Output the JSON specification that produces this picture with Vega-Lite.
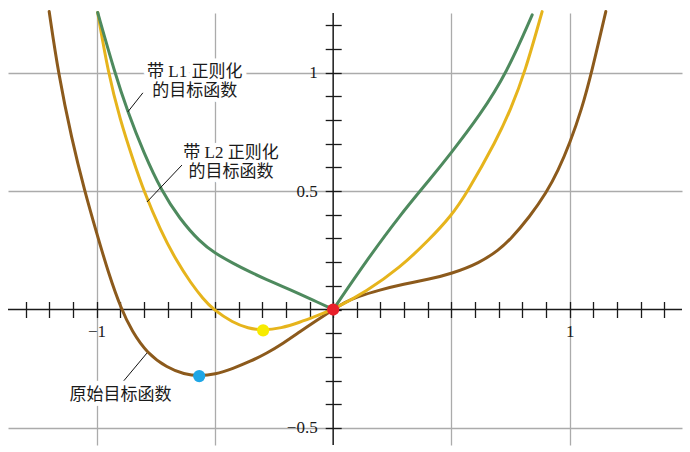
{
  "$schema": "https://vega.github.io/schema/vega-lite/v6.json",
  "width": 674,
  "height": 432,
  "autosize": {"type": "none"},
  "padding": {"left": 8, "top": 13, "right": 8, "bottom": 7},
  "background": "white",
  "config": {"view": {"stroke": null}, "axis": {"labelFont": "Liberation Serif", "labelFontSize": 17, "labelColor": "#1a1a1a"}},
  "datasets": {
    "curves": [
      {"s": "f", "seg": "f", "x": -1.2, "y": 1.258},
      {"s": "f", "seg": "f", "x": -1.162, "y": 1.0},
      {"s": "f", "seg": "f", "x": -1.105, "y": 0.72},
      {"s": "f", "seg": "f", "x": -1.05, "y": 0.5},
      {"s": "f", "seg": "f", "x": -1.0, "y": 0.325},
      {"s": "f", "seg": "f", "x": -0.95, "y": 0.155},
      {"s": "f", "seg": "f", "x": -0.895, "y": 0.0},
      {"s": "f", "seg": "f", "x": -0.85, "y": -0.092},
      {"s": "f", "seg": "f", "x": -0.787, "y": -0.184},
      {"s": "f", "seg": "f", "x": -0.7, "y": -0.247},
      {"s": "f", "seg": "f", "x": -0.63, "y": -0.273},
      {"s": "f", "seg": "f", "x": -0.566, "y": -0.281},
      {"s": "f", "seg": "f", "x": -0.5, "y": -0.274},
      {"s": "f", "seg": "f", "x": -0.423, "y": -0.249},
      {"s": "f", "seg": "f", "x": -0.35, "y": -0.219},
      {"s": "f", "seg": "f", "x": -0.281, "y": -0.185},
      {"s": "f", "seg": "f", "x": -0.21, "y": -0.142},
      {"s": "f", "seg": "f", "x": -0.141, "y": -0.094},
      {"s": "f", "seg": "f", "x": -0.07, "y": -0.046},
      {"s": "f", "seg": "f", "x": 0.0, "y": 0.0},
      {"s": "f", "seg": "f", "x": 0.05, "y": 0.03},
      {"s": "f", "seg": "f", "x": 0.099, "y": 0.053},
      {"s": "f", "seg": "f", "x": 0.197, "y": 0.083},
      {"s": "f", "seg": "f", "x": 0.296, "y": 0.107},
      {"s": "f", "seg": "f", "x": 0.409, "y": 0.129},
      {"s": "f", "seg": "f", "x": 0.496, "y": 0.15},
      {"s": "f", "seg": "f", "x": 0.62, "y": 0.197},
      {"s": "f", "seg": "f", "x": 0.7, "y": 0.252},
      {"s": "f", "seg": "f", "x": 0.747, "y": 0.294},
      {"s": "f", "seg": "f", "x": 0.831, "y": 0.392},
      {"s": "f", "seg": "f", "x": 0.902, "y": 0.495},
      {"s": "f", "seg": "f", "x": 0.95, "y": 0.585},
      {"s": "f", "seg": "f", "x": 1.0, "y": 0.702},
      {"s": "f", "seg": "f", "x": 1.05, "y": 0.845},
      {"s": "f", "seg": "f", "x": 1.092, "y": 1.0},
      {"s": "f", "seg": "f", "x": 1.152, "y": 1.258},

      {"s": "l2", "seg": "l2", "x": -0.995, "y": 1.254},
      {"s": "l2", "seg": "l2", "x": -0.951, "y": 1.0},
      {"s": "l2", "seg": "l2", "x": -0.9, "y": 0.8},
      {"s": "l2", "seg": "l2", "x": -0.845, "y": 0.63},
      {"s": "l2", "seg": "l2", "x": -0.8, "y": 0.5},
      {"s": "l2", "seg": "l2", "x": -0.73, "y": 0.335},
      {"s": "l2", "seg": "l2", "x": -0.662, "y": 0.205},
      {"s": "l2", "seg": "l2", "x": -0.6, "y": 0.11},
      {"s": "l2", "seg": "l2", "x": -0.55, "y": 0.046},
      {"s": "l2", "seg": "l2", "x": -0.507, "y": 0.0},
      {"s": "l2", "seg": "l2", "x": -0.423, "y": -0.056},
      {"s": "l2", "seg": "l2", "x": -0.36, "y": -0.079},
      {"s": "l2", "seg": "l2", "x": -0.296, "y": -0.088},
      {"s": "l2", "seg": "l2", "x": -0.22, "y": -0.079},
      {"s": "l2", "seg": "l2", "x": -0.141, "y": -0.054},
      {"s": "l2", "seg": "l2", "x": -0.07, "y": -0.027},
      {"s": "l2", "seg": "l2", "x": 0.0, "y": 0.0},
      {"s": "l2", "seg": "l2", "x": 0.141, "y": 0.077},
      {"s": "l2", "seg": "l2", "x": 0.282, "y": 0.176},
      {"s": "l2", "seg": "l2", "x": 0.409, "y": 0.298},
      {"s": "l2", "seg": "l2", "x": 0.496, "y": 0.392},
      {"s": "l2", "seg": "l2", "x": 0.564, "y": 0.49},
      {"s": "l2", "seg": "l2", "x": 0.691, "y": 0.716},
      {"s": "l2", "seg": "l2", "x": 0.75, "y": 0.845},
      {"s": "l2", "seg": "l2", "x": 0.81, "y": 1.0},
      {"s": "l2", "seg": "l2", "x": 0.883, "y": 1.258},

      {"s": "l1", "seg": "l1a", "x": -0.995, "y": 1.254},
      {"s": "l1", "seg": "l1a", "x": -0.923, "y": 1.0},
      {"s": "l1", "seg": "l1a", "x": -0.868, "y": 0.834},
      {"s": "l1", "seg": "l1a", "x": -0.8, "y": 0.66},
      {"s": "l1", "seg": "l1a", "x": -0.725, "y": 0.5},
      {"s": "l1", "seg": "l1a", "x": -0.65, "y": 0.385},
      {"s": "l1", "seg": "l1a", "x": -0.563, "y": 0.285},
      {"s": "l1", "seg": "l1a", "x": -0.5, "y": 0.238},
      {"s": "l1", "seg": "l1a", "x": -0.423, "y": 0.195},
      {"s": "l1", "seg": "l1a", "x": -0.35, "y": 0.158},
      {"s": "l1", "seg": "l1a", "x": -0.281, "y": 0.126},
      {"s": "l1", "seg": "l1a", "x": -0.21, "y": 0.096},
      {"s": "l1", "seg": "l1a", "x": -0.141, "y": 0.065},
      {"s": "l1", "seg": "l1a", "x": -0.07, "y": 0.033},
      {"s": "l1", "seg": "l1a", "x": 0.0, "y": 0.0},
      {"s": "l1", "seg": "l1b", "x": 0.0, "y": 0.0},
      {"s": "l1", "seg": "l1b", "x": 0.141, "y": 0.207},
      {"s": "l1", "seg": "l1b", "x": 0.282, "y": 0.398},
      {"s": "l1", "seg": "l1b", "x": 0.409, "y": 0.55},
      {"s": "l1", "seg": "l1b", "x": 0.496, "y": 0.658},
      {"s": "l1", "seg": "l1b", "x": 0.62, "y": 0.82},
      {"s": "l1", "seg": "l1b", "x": 0.733, "y": 0.998},
      {"s": "l1", "seg": "l1b", "x": 0.841, "y": 1.244}
    ],
    "minima": [
      {"name": "原始目标函数最小值", "x": -0.566, "y": -0.281},
      {"name": "L2 最小值", "x": -0.296, "y": -0.088},
      {"name": "L1 最小值", "x": 0.0, "y": 0.0}
    ],
    "labels": [
      {"t": "带 L1 正则化", "x": -0.585, "y": 1.005},
      {"t": "的目标函数", "x": -0.585, "y": 0.923},
      {"t": "带 L2 正则化", "x": -0.432, "y": 0.661},
      {"t": "的目标函数", "x": -0.432, "y": 0.581},
      {"t": "原始目标函数", "x": -0.899, "y": -0.361}
    ],
    "leaders": [
      {"x": -0.804, "y": 0.915, "x2": -0.868, "y2": 0.834},
      {"x": -0.639, "y": 0.61, "x2": -0.787, "y2": 0.454},
      {"x": -0.889, "y": -0.306, "x2": -0.787, "y2": -0.184}
    ]
  },
  "encoding": {
    "x": {"type": "quantitative", "scale": {"domain": [-1.374, 1.474], "nice": false, "zero": false}},
    "y": {"type": "quantitative", "scale": {"domain": [-0.572, 1.252], "nice": false, "zero": false}}
  },
  "layer": [
    {
      "data": {"name": "curves"},
      "transform": [{"filter": "datum.s == 'f'"}],
      "mark": {"type": "point", "opacity": 0},
      "encoding": {
        "x": {"field": "x", "type": "quantitative",
          "axis": {"grid": true, "values": [-1, -0.5, 0.5, 1], "ticks": false, "labels": false, "domain": false, "title": null, "gridColor": "#ababab", "gridWidth": 1.3, "orient": "bottom"}},
        "y": {"field": "y", "type": "quantitative",
          "axis": {"grid": true, "values": [-0.5, 0.5, 1], "ticks": false, "labels": false, "domain": false, "title": null, "gridColor": "#ababab", "gridWidth": 1.3, "orient": "left"}}
      }
    },
    {
      "data": {"values": [{"v": 0}]},
      "mark": {"type": "rule", "color": "#1a1a1a", "strokeWidth": 1.5},
      "encoding": {"y": {"field": "v", "type": "quantitative", "axis": null}}
    },
    {
      "data": {"values": [{"v": 0}]},
      "mark": {"type": "rule", "color": "#1a1a1a", "strokeWidth": 1.5},
      "encoding": {"x": {"field": "v", "type": "quantitative", "axis": null}}
    },
    {
      "data": {"name": "curves"},
      "mark": {"type": "line", "interpolate": "basis", "strokeWidth": 3, "strokeCap": "round"},
      "encoding": {
        "x": {"field": "x", "type": "quantitative", "axis": null},
        "y": {"field": "y", "type": "quantitative", "axis": null},
        "color": {"field": "s", "type": "nominal", "legend": null,
          "scale": {"domain": ["f", "l1", "l2"], "range": ["#8c5a1c", "#4e8a5e", "#e6b41c"]}},
        "detail": {"field": "seg"},
        "order": {"field": "x", "type": "quantitative"}
      }
    },
    {
      "data": {"name": "leaders"},
      "mark": {"type": "rule", "color": "#111111", "strokeWidth": 1},
      "encoding": {
        "x": {"field": "x", "type": "quantitative", "axis": null},
        "y": {"field": "y", "type": "quantitative", "axis": null},
        "x2": {"field": "x2"},
        "y2": {"field": "y2"}
      }
    },
    {
      "data": {"name": "labels"},
      "mark": {"type": "text", "font": "Liberation Serif, Noto Sans CJK SC", "fontSize": 17, "baseline": "middle", "align": "center", "stroke": "white", "strokeWidth": 9, "strokeJoin": "round", "fill": "white"},
      "encoding": {
        "x": {"field": "x", "type": "quantitative", "axis": null},
        "y": {"field": "y", "type": "quantitative", "axis": null},
        "text": {"field": "t"}
      }
    },
    {
      "data": {"name": "labels"},
      "mark": {"type": "text", "font": "Liberation Serif, Noto Sans CJK SC", "fontSize": 17, "baseline": "middle", "align": "center", "color": "#1a1a1a"},
      "encoding": {
        "x": {"field": "x", "type": "quantitative", "axis": null},
        "y": {"field": "y", "type": "quantitative", "axis": null},
        "text": {"field": "t"}
      }
    },
    {
      "data": {"name": "minima"},
      "mark": {"type": "circle", "size": 150, "opacity": 1},
      "encoding": {
        "x": {"field": "x", "type": "quantitative",
          "axis": {"orient": "bottom", "offset": -143.5, "domain": false, "grid": false, "title": null,
            "values": [-1.3, -1.2, -1.1, -1, -0.9, -0.8, -0.7, -0.6, -0.5, -0.4, -0.3, -0.2, -0.1, 0, 0.1, 0.2, 0.3, 0.4, 0.5, 0.6, 0.7, 0.8, 0.9, 1, 1.1, 1.2, 1.3, 1.4],
            "tickSize": 16, "tickColor": "#1a1a1a", "tickWidth": 1.3, "labelPadding": 6,
            "labelExpr": "datum.value == 1 ? '1' : (datum.value == -1 ? '−1' : '')",
            "labelFont": "Liberation Serif", "labelFontSize": 17, "labelColor": "#1a1a1a",
            "labelOverlap": false, "labelFlush": false, "labelBound": false}},
        "y": {"field": "y", "type": "quantitative",
          "axis": {"orient": "left", "offset": -333.2, "domain": false, "grid": false, "title": null,
            "values": [-0.5, -0.4, -0.3, -0.2, -0.1, 0, 0.1, 0.2, 0.3, 0.4, 0.5, 0.6, 0.7, 0.8, 0.9, 1, 1.1, 1.2],
            "tickSize": 16, "tickColor": "#1a1a1a", "tickWidth": 1.3, "labelPadding": 8,
            "labelExpr": "datum.value == 1 ? '1' : (datum.value == 0.5 ? '0.5' : (datum.value == -0.5 ? '−0.5' : ''))",
            "labelFont": "Liberation Serif", "labelFontSize": 17, "labelColor": "#1a1a1a",
            "labelOverlap": false, "labelFlush": false, "labelBound": false}},
        "color": {"field": "name", "type": "nominal", "legend": null,
          "scale": {"domain": ["原始目标函数最小值", "L2 最小值", "L1 最小值"], "range": ["#1ea6e6", "#f7eb00", "#e8202a"]}}
      }
    }
  ],
  "resolve": {"axis": {"x": "independent", "y": "independent"}, "scale": {"color": "independent"}}
}
